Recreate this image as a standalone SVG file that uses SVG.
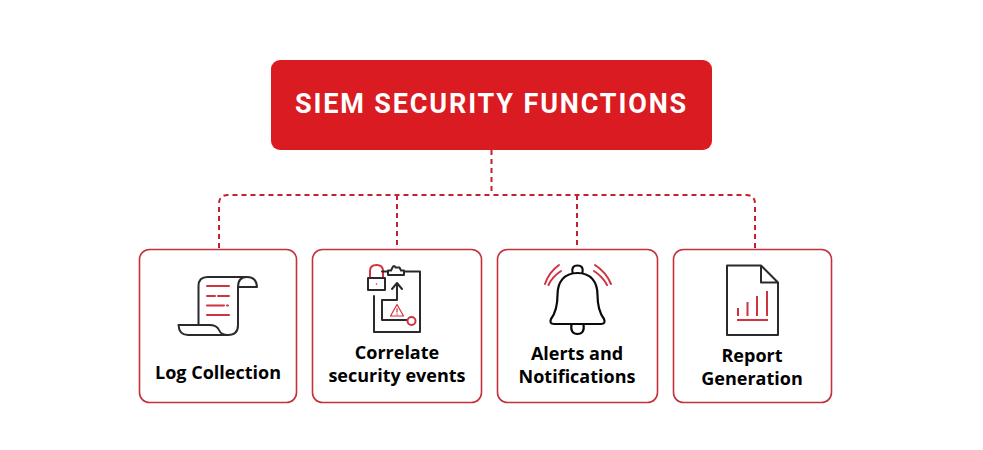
<svg xmlns="http://www.w3.org/2000/svg" width="983" height="450" viewBox="0 0 983 450">
<style>
.card{fill:#fff;stroke:#c4313b;stroke-width:1.6}
.lbl{font-family:"Open Sans","Liberation Sans",sans-serif;font-weight:700;font-size:18px;fill:#000;text-anchor:middle}
.k{fill:none;stroke:#2a2a2c;stroke-width:2;stroke-linejoin:round;stroke-linecap:round}
.r{fill:none;stroke:#cf3340;stroke-width:2;stroke-linejoin:round;stroke-linecap:round}
.d{fill:none;stroke:#c4202d;stroke-width:2;stroke-dasharray:5 4}
</style>
<rect width="983" height="450" fill="#fff"/>
<g id="connectors">
<path class="d" d="M491.500 150V195"/>
<path class="d" d="M219 248V204Q219 195 228 195H746Q755 195 755 204V248"/>
<path class="d" d="M397 195V249"/>
<path class="d" d="M577 195V249"/>
</g>
<g id="root">
<rect x="271" y="60" width="441" height="90" rx="9" fill="#da1c22"/>
<text x="491.500" y="113" font-family="Roboto,'Liberation Sans',sans-serif" font-weight="700" font-size="27px" letter-spacing="1.86" fill="#fff" text-anchor="middle">SIEM SECURITY FUNCTIONS</text>
</g>
<g id="log-collection">
<rect class="card" x="139.500" y="249.500" width="157" height="153" rx="10"/>
<path class="k" d="M198.500 324V286Q198.500 277 207.500 277H247Q256.500 277 257 287H238M238 287Q238 277 247 277M238 287V325Q238 335 228 335H188Q179 335 178.500 325H209Q217 325 219 330Q221 335 228 335"/>
<path class="r" d="M207 286H229M207 296H215M218 296H229M207 305.500H224M227 305.500H228M207 315H229"/>
<text class="lbl" x="218" y="379">Log Collection</text>
</g>
<g id="correlate-security-events">
<rect class="card" x="312.500" y="249.500" width="169" height="153" rx="10"/>
<path class="r" d="M370 278V271Q370 265 376.500 265Q383 265 383 271V278"/>
<rect class="k" x="368" y="278" width="17" height="12"/>
<path class="k" d="M374 296V332H420V271.500H404M388 271.500H382M388 275H404V270.500H401L399.500 267.500H395.500Q394 264.500 392.500 267.500L391 270.500H388Z"/>
<path class="k" d="M407 320H382V300H397V284M392 289L397 283L402 289"/>
<circle class="r" cx="411.500" cy="321" r="4"/>
<path class="r" style="stroke-width:1.2" d="M397 304.500L403.500 316H390.500ZM397 308.500V312M397 313.800V314.200"/>
<circle cx="376.500" cy="284" r="0.800" fill="#cf3340"/>
<text class="lbl" x="397" y="359">Correlate</text>
<text class="lbl" x="397" y="382">security events</text>
</g>
<g id="alerts-and-notifications">
<rect class="card" x="497.500" y="249.500" width="160" height="153" rx="10"/>
<path class="k" style="stroke:#0a0a0a;stroke-width:2.2" d="M572.500 273Q571 265.500 577.500 265.500Q584 265.500 582.500 273M577.500 273C564 273 557.500 282 557.500 295C557.500 307 554 315 551 319Q549 324 554 324H601Q606 324 604 319C601 315 597.500 307 597.500 295C597.500 282 591 273 577.500 273ZM571.500 324Q570 334 577.500 334Q585 334 583.500 324"/>
<path class="r" d="M545 284Q549 272 559 265M548.500 285Q552 277 561 271M595 265Q606 272 611 284M594 271Q603 277 607 285"/>
<text class="lbl" x="577" y="360">Alerts and</text>
<text class="lbl" x="577" y="383">Notifications</text>
</g>
<g id="report-generation">
<rect class="card" x="673.500" y="249.500" width="158" height="153" rx="10"/>
<path class="k" style="stroke-linecap:butt" d="M727 265.500H761L778 282.500V335H727ZM761 265.500V282.500H778"/>
<path class="r" style="stroke-linecap:butt" d="M738 308V316M747.500 302V316M757 296V316M767 291V316M737 320H768"/>
<text class="lbl" x="752" y="362">Report</text>
<text class="lbl" x="752" y="385">Generation</text>
</g>
</svg>
